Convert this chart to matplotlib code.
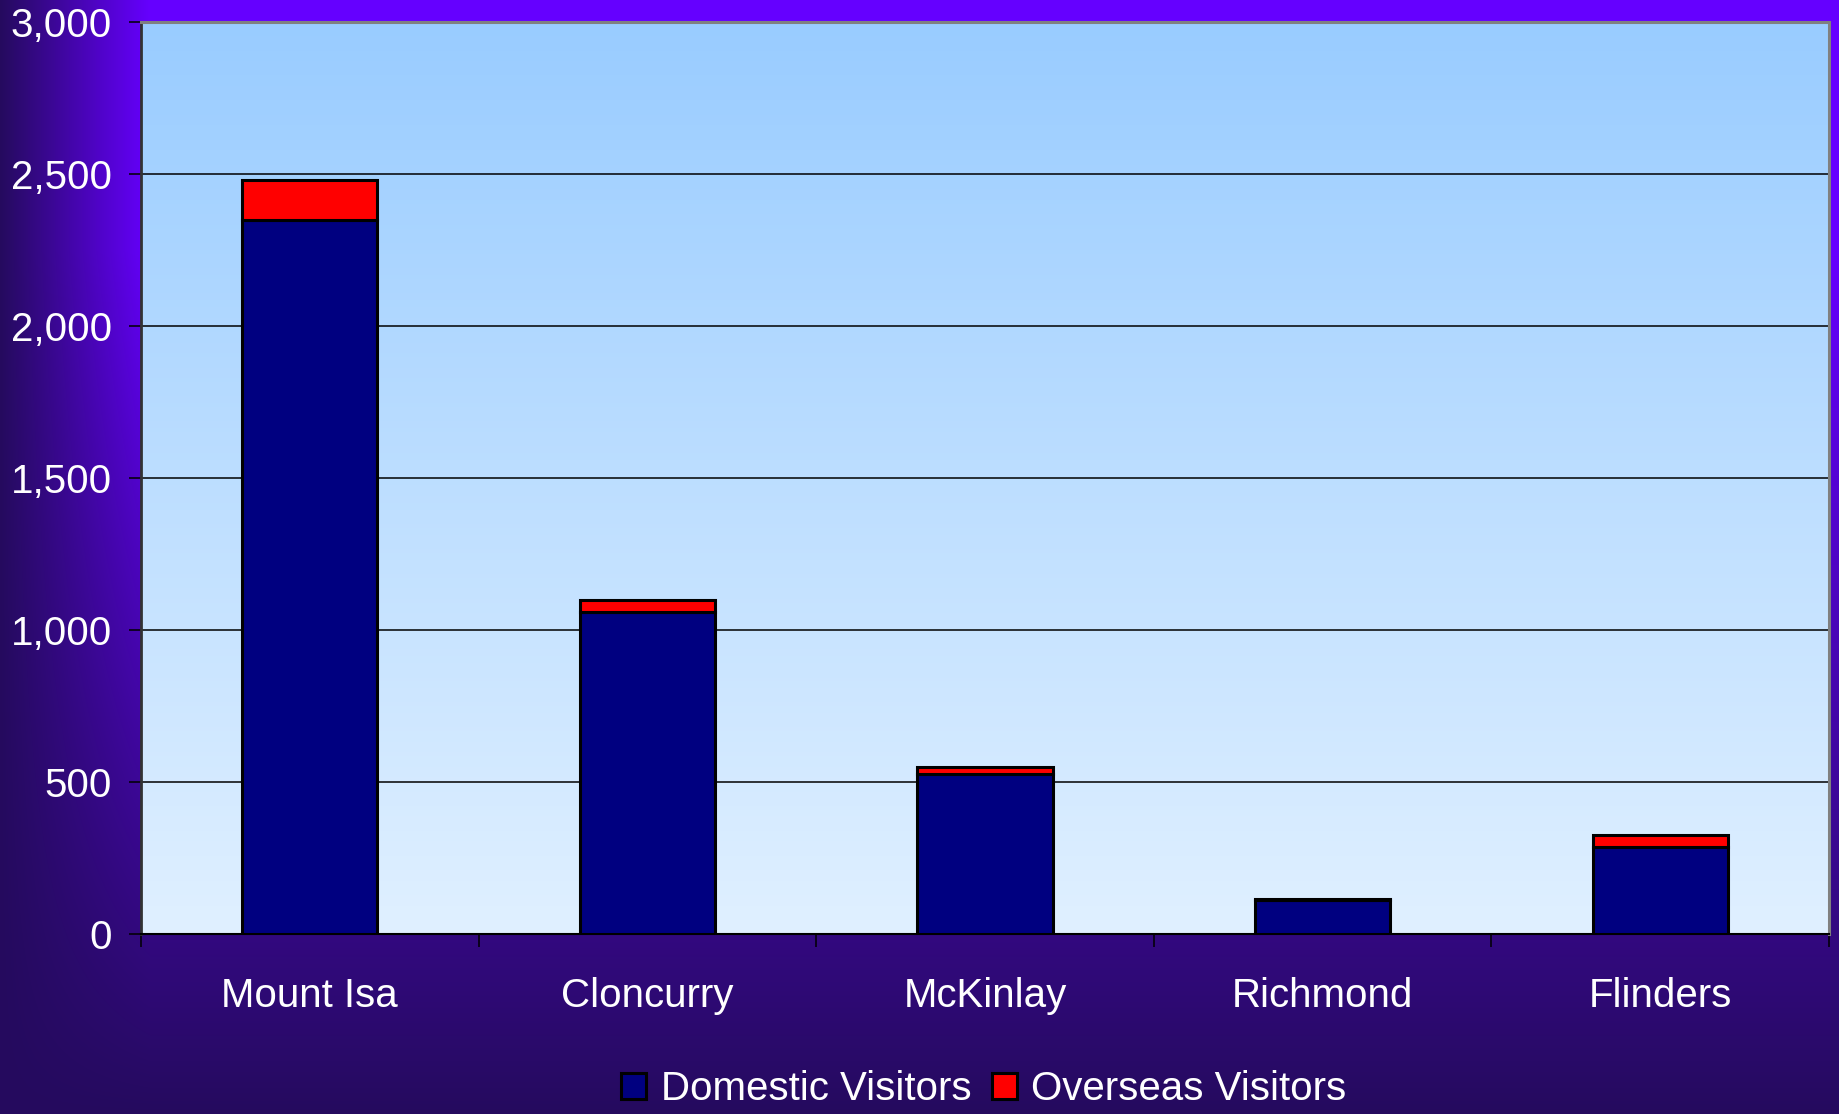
import numpy as np
import matplotlib
matplotlib.use("Agg")
import matplotlib.pyplot as plt
from matplotlib.colors import LinearSegmentedColormap, to_rgb
from matplotlib.ticker import FuncFormatter, FixedLocator

plt.rcParams['font.family'] = ['Liberation Sans', 'DejaVu Sans']

categories = ["Mount Isa", "Cloncurry", "McKinlay", "Richmond", "Flinders"]
domestic = [2350, 1058, 527, 110, 284]
overseas = [130, 40, 23, 5, 41]
series_names = ["Domestic Visitors", "Overseas Visitors"]
y_ticks = [0, 500, 1000, 1500, 2000, 2500, 3000]

W, H = 1839, 1114
fig = plt.figure(figsize=(W / 100, H / 100), dpi=100)

# figure background gradient (bright violet centre, dark toward left & bottom)
bright = np.array(to_rgb("#6600FF"))
dark = np.array(to_rgb("#250B5E"))
xs = np.arange(W)
ys = np.arange(H)
tx = np.clip(1 - xs / 150.0, 0, 1)
ty = np.clip((ys - 250) / (H - 250.0), 0, 1)
TX, TY = np.meshgrid(tx, ty)
t = 1 - (1 - TX) * (1 - TY)
img = bright[None, None, :] * (1 - t[..., None]) + dark[None, None, :] * t[..., None]
bg = fig.add_axes([0, 0, 1, 1], zorder=-10)
bg.imshow(img, aspect='auto', extent=[0, 1, 0, 1], origin='upper')
bg.axis('off')

ax = fig.add_axes([141 / W, 1 - 933.6 / H, (1829 - 141) / W, (933.6 - 22.3) / H])
ax.patch.set_alpha(0)

# plot-area gradient
pcm = LinearSegmentedColormap.from_list("pa", ["#E0F0FF", "#99CCFF"])
grad = np.linspace(0, 1, 256)[:, None]
ax.imshow(grad, cmap=pcm, aspect='auto', extent=[-0.5, 4.5, 0, 3000],
          origin='lower', zorder=0.1)

x = np.arange(len(categories))
ax.bar(x, domestic, width=0.4, color="#000080", edgecolor="black",
       linewidth=2.2, label=series_names[0], zorder=3)
ax.bar(x, overseas, width=0.4, bottom=domestic, color="#FF0000",
       edgecolor="black", linewidth=2.2, label=series_names[1], zorder=3)

ax.set_xlim(-0.5, 4.5)
ax.set_ylim(0, 3000)
ax.yaxis.set_major_locator(FixedLocator(y_ticks))
ax.yaxis.set_major_formatter(FuncFormatter(lambda v, p: f"{int(v):,}"))
ax.grid(axis='y', color='black', linewidth=1.1, zorder=1)
ax.set_axisbelow(True)

ax.set_xticks(x)
ax.set_xticklabels(categories)
ax.xaxis.set_minor_locator(FixedLocator(np.arange(-0.5, 5.0, 1.0)))
ax.tick_params(axis='x', which='major', length=0, pad=31, labelsize=29,
               labelcolor='white')
ax.tick_params(axis='x', which='minor', length=9.5, width=1.1,
               direction='out', color='black')
ax.tick_params(axis='y', which='major', length=8.6, width=1.1,
               direction='out', color='black', pad=12.5, labelsize=29,
               labelcolor='white')

for s in ['top', 'right']:
    ax.spines[s].set_color('#808080')
    ax.spines[s].set_linewidth(2.2)
ax.spines['left'].set_color('#333333')
ax.spines['left'].set_linewidth(2.0)
ax.spines['bottom'].set_color('black')
ax.spines['bottom'].set_linewidth(1.5)

leg = fig.legend(loc='center', bbox_to_anchor=(984 / W, 1 - 1089 / H),
                 ncol=2, frameon=False, fontsize=29, labelcolor='white',
                 handlelength=0.62, handleheight=0.62, handletextpad=0.36,
                 columnspacing=0.51, borderpad=0, borderaxespad=0)

fig.savefig("out.png", dpi=100)
